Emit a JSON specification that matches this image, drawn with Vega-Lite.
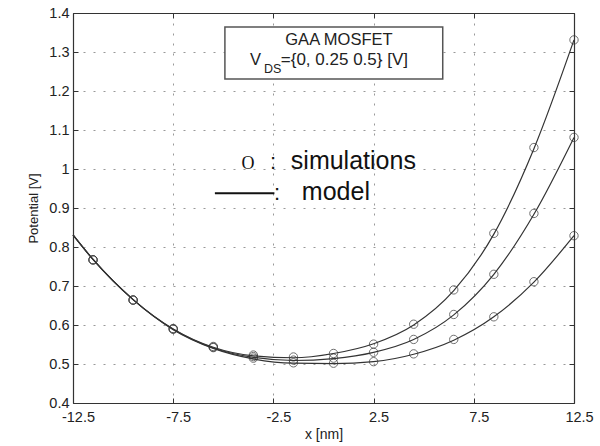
{
  "$schema": "https://vega.github.io/schema/vega-lite/v6.json",
  "width": 501,
  "height": 390,
  "autosize": "none",
  "padding": {"left": 73, "top": 13, "right": 26, "bottom": 43},
  "background": "white",
  "config": {
    "view": {"stroke": null},
    "font": "Liberation Sans",
    "axis": {"labelFont": "Liberation Sans", "titleFont": "Liberation Sans", "labelColor": "#222", "titleColor": "#222", "domainColor": "#333", "tickColor": "#333", "titleFontWeight": "normal"}
  },
  "datasets": {
    "sim": [
      {"x": -11.5, "v": "0", "p": 0.767}, {"x": -11.5, "v": "0.25", "p": 0.767}, {"x": -11.5, "v": "0.5", "p": 0.767},
      {"x": -9.5, "v": "0", "p": 0.664}, {"x": -9.5, "v": "0.25", "p": 0.664}, {"x": -9.5, "v": "0.5", "p": 0.664},
      {"x": -7.5, "v": "0", "p": 0.589}, {"x": -7.5, "v": "0.25", "p": 0.590}, {"x": -7.5, "v": "0.5", "p": 0.591},
      {"x": -5.5, "v": "0", "p": 0.542}, {"x": -5.5, "v": "0.25", "p": 0.543}, {"x": -5.5, "v": "0.5", "p": 0.545},
      {"x": -3.5, "v": "0", "p": 0.515}, {"x": -3.5, "v": "0.25", "p": 0.519}, {"x": -3.5, "v": "0.5", "p": 0.523},
      {"x": -1.5, "v": "0", "p": 0.503}, {"x": -1.5, "v": "0.25", "p": 0.510}, {"x": -1.5, "v": "0.5", "p": 0.518},
      {"x": 0.5, "v": "0", "p": 0.502}, {"x": 0.5, "v": "0.25", "p": 0.515}, {"x": 0.5, "v": "0.5", "p": 0.527},
      {"x": 2.5, "v": "0", "p": 0.506}, {"x": 2.5, "v": "0.25", "p": 0.530}, {"x": 2.5, "v": "0.5", "p": 0.551},
      {"x": 4.5, "v": "0", "p": 0.526}, {"x": 4.5, "v": "0.25", "p": 0.563}, {"x": 4.5, "v": "0.5", "p": 0.602},
      {"x": 6.5, "v": "0", "p": 0.563}, {"x": 6.5, "v": "0.25", "p": 0.627}, {"x": 6.5, "v": "0.5", "p": 0.690},
      {"x": 8.5, "v": "0", "p": 0.621}, {"x": 8.5, "v": "0.25", "p": 0.730}, {"x": 8.5, "v": "0.5", "p": 0.835},
      {"x": 10.5, "v": "0", "p": 0.711}, {"x": 10.5, "v": "0.25", "p": 0.886}, {"x": 10.5, "v": "0.5", "p": 1.055},
      {"x": 12.5, "v": "0", "p": 0.829}, {"x": 12.5, "v": "0.25", "p": 1.081}, {"x": 12.5, "v": "0.5", "p": 1.331}
    ],
    "model": [
      {"x": -12.5, "v": "0", "p": 0.831}, {"x": -12.5, "v": "0.25", "p": 0.831}, {"x": -12.5, "v": "0.5", "p": 0.831},
      {"x": -11.5, "v": "0", "p": 0.768}, {"x": -11.5, "v": "0.25", "p": 0.768}, {"x": -11.5, "v": "0.5", "p": 0.768},
      {"x": -9.5, "v": "0", "p": 0.665}, {"x": -9.5, "v": "0.25", "p": 0.665}, {"x": -9.5, "v": "0.5", "p": 0.665},
      {"x": -7.5, "v": "0", "p": 0.588}, {"x": -7.5, "v": "0.25", "p": 0.589}, {"x": -7.5, "v": "0.5", "p": 0.590},
      {"x": -5.5, "v": "0", "p": 0.540}, {"x": -5.5, "v": "0.25", "p": 0.541}, {"x": -5.5, "v": "0.5", "p": 0.543},
      {"x": -3.5, "v": "0", "p": 0.513}, {"x": -3.5, "v": "0.25", "p": 0.517}, {"x": -3.5, "v": "0.5", "p": 0.521},
      {"x": -1.5, "v": "0", "p": 0.502}, {"x": -1.5, "v": "0.25", "p": 0.509}, {"x": -1.5, "v": "0.5", "p": 0.516},
      {"x": 0.5, "v": "0", "p": 0.501}, {"x": 0.5, "v": "0.25", "p": 0.514}, {"x": 0.5, "v": "0.5", "p": 0.527},
      {"x": 2.5, "v": "0", "p": 0.506}, {"x": 2.5, "v": "0.25", "p": 0.530}, {"x": 2.5, "v": "0.5", "p": 0.552},
      {"x": 4.5, "v": "0", "p": 0.525}, {"x": 4.5, "v": "0.25", "p": 0.563}, {"x": 4.5, "v": "0.5", "p": 0.600},
      {"x": 6.5, "v": "0", "p": 0.561}, {"x": 6.5, "v": "0.25", "p": 0.626}, {"x": 6.5, "v": "0.5", "p": 0.688},
      {"x": 8.5, "v": "0", "p": 0.621}, {"x": 8.5, "v": "0.25", "p": 0.730}, {"x": 8.5, "v": "0.5", "p": 0.833},
      {"x": 10.5, "v": "0", "p": 0.710}, {"x": 10.5, "v": "0.25", "p": 0.884}, {"x": 10.5, "v": "0.5", "p": 1.052},
      {"x": 12.5, "v": "0", "p": 0.829}, {"x": 12.5, "v": "0.25", "p": 1.081}, {"x": 12.5, "v": "0.5", "p": 1.331}
    ],
    "one": [{}]
  },
  "layer": [
    {
      "data": {"name": "sim"},
      "mark": {"type": "point", "shape": "circle", "filled": false, "stroke": "#333", "strokeWidth": 1, "size": 70, "clip": false},
      "encoding": {
        "x": {"field": "x", "type": "quantitative",
          "scale": {"domain": [-12.5, 12.5], "nice": false, "zero": false},
          "axis": {"values": [-12.5, -7.5, -2.5, 2.5, 7.5, 12.5], "labelExpr": "'' + datum.value", "title": "x [nm]", "titleFontSize": 14, "titlePadding": 4, "labelFontSize": 14.5, "labelPadding": 12, "labelOffset": 5, "tickSize": -5, "grid": true, "gridColor": "#999", "gridDash": [2, 8], "gridWidth": 1, "domainWidth": 1.2, "labelFlush": false}},
        "y": {"field": "p", "type": "quantitative",
          "scale": {"domain": [0.4, 1.4], "nice": false, "zero": false},
          "axis": {"values": [0.4, 0.5, 0.6, 0.7, 0.8, 0.9, 1.0, 1.1, 1.2, 1.3, 1.4], "format": "~g", "title": "Potential [V]", "titleFontSize": 13, "titlePadding": 8, "labelFontSize": 14.5, "labelPadding": 9, "tickSize": -5, "grid": true, "gridColor": "#999", "gridDash": [2, 8], "gridWidth": 1, "domainWidth": 1.2, "labelFlush": false}},
        "detail": {"field": "v", "type": "nominal"}
      }
    },
    {
      "data": {"name": "model"},
      "mark": {"type": "line", "interpolate": "monotone", "stroke": "#333", "strokeWidth": 1.2},
      "encoding": {
        "x": {"field": "x", "type": "quantitative", "axis": {"orient": "top", "labels": false, "title": null, "tickSize": -5, "grid": false, "domainColor": "#333", "domainWidth": 1.2, "values": [-12.5, -7.5, -2.5, 2.5, 7.5, 12.5]}},
        "y": {"field": "p", "type": "quantitative", "axis": {"orient": "right", "labels": false, "title": null, "tickSize": -5, "grid": false, "domainColor": "#333", "domainWidth": 1.2, "values": [0.4, 0.5, 0.6, 0.7, 0.8, 0.9, 1.0, 1.1, 1.2, 1.3, 1.4]}},
        "detail": {"field": "v", "type": "nominal"}
      }
    },
    {
      "data": {"name": "one"},
      "mark": {"type": "rect", "fill": "white", "stroke": "#555", "strokeWidth": 1.5},
      "encoding": {
        "x": {"datum": -4.92, "type": "quantitative", "axis": null},
        "x2": {"datum": 5.95},
        "y": {"datum": 1.364, "type": "quantitative", "axis": null},
        "y2": {"datum": 1.231}
      }
    },
    {
      "data": {"name": "one"},
      "mark": {"type": "text", "text": "GAA MOSFET", "font": "Liberation Sans", "fontSize": 16.5, "align": "center", "baseline": "alphabetic", "fill": "#222"},
      "encoding": {"x": {"datum": 0.77, "type": "quantitative", "axis": null}, "y": {"datum": 1.318, "type": "quantitative", "axis": null}}
    },
    {
      "data": {"name": "one"},
      "mark": {"type": "text", "text": "V", "font": "Liberation Sans", "fontSize": 16.5, "align": "left", "baseline": "alphabetic", "fill": "#222"},
      "encoding": {"x": {"datum": -3.67, "type": "quantitative", "axis": null}, "y": {"datum": 1.266, "type": "quantitative", "axis": null}}
    },
    {
      "data": {"name": "one"},
      "mark": {"type": "text", "text": "DS", "font": "Liberation Sans", "fontSize": 12.5, "align": "left", "baseline": "alphabetic", "fill": "#222"},
      "encoding": {"x": {"datum": -2.97, "type": "quantitative", "axis": null}, "y": {"datum": 1.245, "type": "quantitative", "axis": null}}
    },
    {
      "data": {"name": "one"},
      "mark": {"type": "text", "text": "={0, 0.25 0.5} [V]", "font": "Liberation Sans", "fontSize": 17, "align": "left", "baseline": "alphabetic", "fill": "#222"},
      "encoding": {"x": {"datum": -2.13, "type": "quantitative", "axis": null}, "y": {"datum": 1.266, "type": "quantitative", "axis": null}}
    },
    {
      "data": {"name": "one"},
      "mark": {"type": "text", "text": "O", "font": "Liberation Serif", "fontSize": 18, "align": "center", "baseline": "alphabetic", "fill": "#111"},
      "encoding": {"x": {"datum": -3.77, "type": "quantitative", "axis": null}, "y": {"datum": 1.0, "type": "quantitative", "axis": null}}
    },
    {
      "data": {"name": "one"},
      "mark": {"type": "text", "text": ":", "font": "Liberation Sans", "fontSize": 22, "align": "center", "baseline": "alphabetic", "fill": "#111"},
      "encoding": {"x": {"datum": -2.52, "type": "quantitative", "axis": null}, "y": {"datum": 1.0, "type": "quantitative", "axis": null}}
    },
    {
      "data": {"name": "one"},
      "mark": {"type": "text", "text": "simulations", "font": "Liberation Sans", "fontSize": 25, "align": "left", "baseline": "alphabetic", "fill": "#111"},
      "encoding": {"x": {"datum": -1.63, "type": "quantitative", "axis": null}, "y": {"datum": 1.0, "type": "quantitative", "axis": null}}
    },
    {
      "data": {"name": "one"},
      "mark": {"type": "rule", "stroke": "#111", "strokeWidth": 2},
      "encoding": {"x": {"datum": -5.42, "type": "quantitative", "axis": null}, "x2": {"datum": -2.45}, "y": {"datum": 0.938, "type": "quantitative", "axis": null}}
    },
    {
      "data": {"name": "one"},
      "mark": {"type": "text", "text": ":", "font": "Liberation Sans", "fontSize": 22, "align": "center", "baseline": "alphabetic", "fill": "#111"},
      "encoding": {"x": {"datum": -2.32, "type": "quantitative", "axis": null}, "y": {"datum": 0.92, "type": "quantitative", "axis": null}}
    },
    {
      "data": {"name": "one"},
      "mark": {"type": "text", "text": "model", "font": "Liberation Sans", "fontSize": 25, "align": "left", "baseline": "alphabetic", "fill": "#111"},
      "encoding": {"x": {"datum": -1.08, "type": "quantitative", "axis": null}, "y": {"datum": 0.92, "type": "quantitative", "axis": null}}
    }
  ],
  "resolve": {"axis": {"x": "independent", "y": "independent"}}
}
